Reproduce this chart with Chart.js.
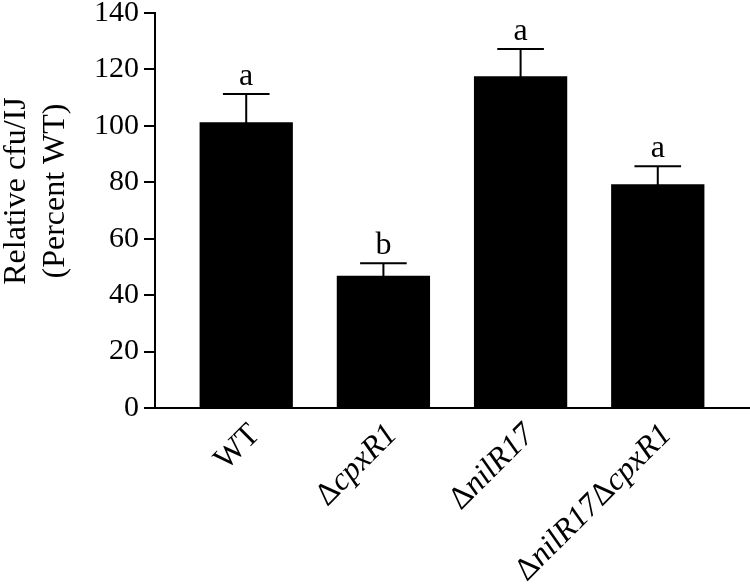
<!DOCTYPE html>
<html>
<head>
<meta charset="utf-8">
<script src="https://cdn.jsdelivr.net/npm/chart.js@4"></script>
<style>
  html, body { margin: 0; padding: 0; background: #ffffff; }
  #wrap { width: 750px; height: 584px; }
</style>
</head>
<body>
<div id="wrap"><canvas id="c" width="750" height="584"></canvas></div>
<script>
// ---- data ----
const categories = ["WT", "\u0394cpxR1", "\u0394nilR17", "\u0394nilR17\u0394cpxR1"];
const italicNames = [false, true, true, true];
const values = [101.3, 46.9, 117.6, 79.3];
const errors = [10.0, 4.4, 9.6, 6.4];
const letters = ["a", "b", "a", "a"];
const yTicks = [0, 20, 40, 60, 80, 100, 120, 140];
const yTitle = ["Relative cfu/IJ", "(Percent WT)"];

const SERIF = '"Liberation Serif", "Times New Roman", serif';

const annotations = {
  id: 'annotations',
  afterDatasetsDraw(chart) {
    const ctx = chart.ctx;
    const ys = chart.scales.y;
    const meta = chart.getDatasetMeta(0);
    ctx.save();
    ctx.strokeStyle = '#000';
    ctx.fillStyle = '#000';
    ctx.lineWidth = 2;
    meta.data.forEach((el, i) => {
      const top = ys.getPixelForValue(values[i] + errors[i]);
      const half = el.width / 4;
      ctx.beginPath();
      ctx.moveTo(el.x, el.y + 1);
      ctx.lineTo(el.x, top);
      ctx.moveTo(el.x - half, top);
      ctx.lineTo(el.x + half, top);
      ctx.stroke();
      ctx.font = '32px ' + SERIF;
      ctx.textAlign = 'center';
      ctx.textBaseline = 'alphabetic';
      ctx.fillText(letters[i], el.x, top - 9);
    });
    ctx.restore();
  },
  afterDraw(chart) {
    const ctx = chart.ctx;
    const xs = chart.scales.x;
    const area = chart.chartArea;
    ctx.save();
    ctx.fillStyle = '#000';
    // x category labels, rotated 45 degrees, right-aligned at the tick
    categories.forEach((lab, i) => {
      const px = xs.getPixelForValue(i);
      const parts = lab.split(/(\u0394)/).filter(s => s.length);
      const fontFor = s => (s === '\u0394' || !italicNames[i]) ? ('32px ' + SERIF) : ('italic 32px ' + SERIF);
      let total = 0;
      parts.forEach(s => { ctx.font = fontFor(s); total += ctx.measureText(s).width; });
      ctx.save();
      ctx.translate(px + 9, area.bottom + 22);
      ctx.rotate(-Math.PI / 4);
      ctx.textAlign = 'left';
      ctx.textBaseline = 'middle';
      let cx = -total;
      parts.forEach(s => {
        ctx.font = fontFor(s);
        ctx.fillText(s, cx, 0);
        cx += ctx.measureText(s).width;
      });
      ctx.restore();
    });
    // y axis title, two lines
    ctx.save();
    ctx.translate(0, 191);
    ctx.rotate(-Math.PI / 2);
    ctx.font = '32px ' + SERIF;
    ctx.textAlign = 'center';
    ctx.textBaseline = 'alphabetic';
    ctx.fillText(yTitle[0], 0, 25);
    ctx.fillText(yTitle[1], 0, 64);
    ctx.restore();
    ctx.restore();
  }
};

new Chart(document.getElementById('c'), {
  type: 'bar',
  data: {
    datasets: [{
      data: values.map((v, i) => ({ x: i, y: v })),
      backgroundColor: '#000000',
      borderWidth: 0,
      categoryPercentage: 1.0,
      barPercentage: 0.68
    }]
  },
  options: {
    responsive: false,
    animation: false,
    devicePixelRatio: 1,
    layout: { padding: { top: 13, right: 1, left: 0, bottom: 0 } },
    plugins: { legend: { display: false }, tooltip: { enabled: false } },
    scales: {
      x: {
        type: 'linear',
        offset: false,
        min: -0.665,
        max: 3.665,
        afterBuildTicks(scale) { scale.ticks = categories.map((c, i) => ({ value: i })); },
        grid: { display: false, offset: false },
        border: { display: true, color: '#000', width: 2 },
        ticks: { display: false },
        afterFit(scale) { scale.height = 176; scale.paddingLeft = 0; scale.paddingRight = 0; }
      },
      y: {
        min: 0,
        max: 140,
        afterBuildTicks(scale) { scale.ticks = yTicks.map(v => ({ value: v })); },
        grid: { display: true, drawOnChartArea: false, drawTicks: true, tickLength: 11, color: '#000', lineWidth: 2 },
        border: { display: true, color: '#000', width: 2 },
        ticks: { color: '#000', font: { family: SERIF, size: 30 }, padding: 5 },
        afterFit(scale) { scale.width = 155; scale.paddingTop = 0; scale.paddingBottom = 0; }
      }
    }
  },
  plugins: [annotations]
});
</script>
</body>
</html>
